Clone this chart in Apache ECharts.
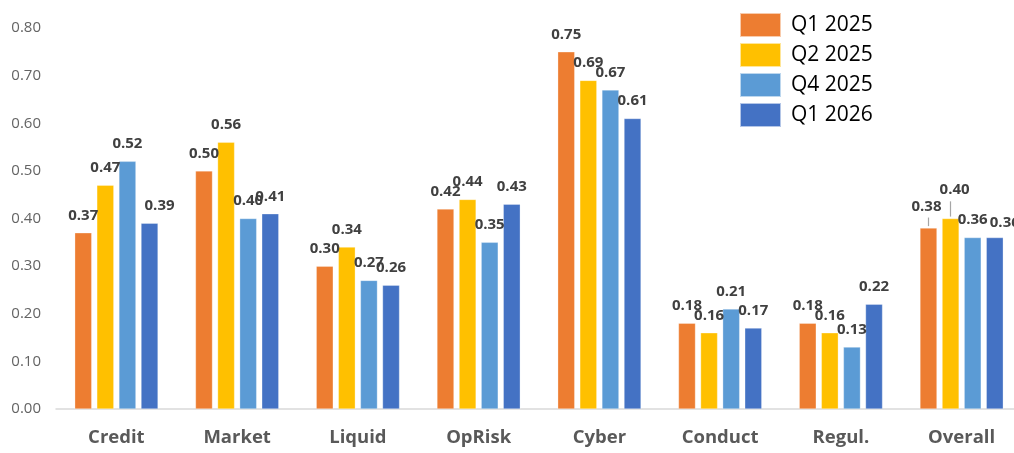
<!DOCTYPE html>
<html>
<head>
<meta charset="utf-8">
<script src="https://cdn.jsdelivr.net/npm/echarts@6/dist/echarts.min.js"></script>
<style>
  html, body { margin: 0; padding: 0; background: #ffffff; }
  #chart { width: 1014px; height: 453px; }
</style>
</head>
<body>
<div id="chart"></div>
<script>
// Risk scores by category and quarter
const categories = ['Credit', 'Market', 'Liquid', 'OpRisk', 'Cyber', 'Conduct', 'Regul.', 'Overall'];
const seriesNames = ['Q1 2025', 'Q2 2025', 'Q4 2025', 'Q1 2026'];
const q1_2025 = [0.37, 0.50, 0.30, 0.42, 0.75, 0.18, 0.18, 0.38];
const q2_2025 = [0.47, 0.56, 0.34, 0.44, 0.69, 0.16, 0.16, 0.40];
const q4_2025 = [0.52, 0.40, 0.27, 0.35, 0.67, 0.21, 0.13, 0.36];
const q1_2026 = [0.39, 0.41, 0.26, 0.43, 0.61, 0.17, 0.22, 0.36];
const yTicks = [0, 0.1, 0.2, 0.3, 0.4, 0.5, 0.6, 0.7, 0.8];

const seriesValues = [q1_2025, q2_2025, q4_2025, q1_2026];
const colors = ['#ED7D31', '#FFC000', '#5B9BD5', '#4472C4'];

// Hand-nudged value labels (series index -> category -> [dx, dy])
const labelNudges = {
  0: { Overall: [-2, -4] },
  1: { Overall: [4, -11] },
  3: { Credit: [10, 0], Overall: [10, 3] }
};

// Labels lifted off their bars get a short leader line (length in axis units)
const leaderLengths = {
  0: { Overall: 0.018 },
  1: { Overall: 0.032 }
};

const chart = echarts.init(document.getElementById('chart'), null, { renderer: 'canvas' });

function barData(i) {
  return seriesValues[i].map((v, j) => {
    const nudge = labelNudges[i] && labelNudges[i][categories[j]];
    return nudge ? { value: v, label: { offset: nudge } } : v;
  });
}

function leaderLines(i) {
  const spec = leaderLengths[i] || {};
  return Object.keys(spec).map(cat => {
    const v = seriesValues[i][categories.indexOf(cat)];
    return [
      { coord: [cat, v + 0.004] },
      { coord: [cat, v + 0.004 + spec[cat]] }
    ];
  });
}

chart.setOption({
  animation: false,
  color: colors,
  textStyle: { fontFamily: '"Open Sans", "Liberation Sans", sans-serif' },
  legend: {
    orient: 'vertical',
    left: 734,
    top: 7,
    itemWidth: 41,
    itemHeight: 24,
    itemGap: 4,
    icon: 'rect',
    data: seriesNames,
    textStyle: { fontSize: 21, color: '#000000', padding: [0, 0, 0, 5] }
  },
  // plot area runs slightly past the right edge of the canvas
  grid: { left: 56, top: 28, width: 966, height: 381, containLabel: false, outerBoundsMode: 'none' },
  xAxis: {
    type: 'category',
    data: categories,
    axisLine: { show: true, lineStyle: { color: '#D9D9D9', width: 1.5 } },
    axisTick: { show: false },
    axisLabel: { color: '#595959', fontSize: 18.5, fontWeight: 'bold', margin: 19 }
  },
  yAxis: {
    type: 'value',
    min: yTicks[0],
    max: yTicks[yTicks.length - 1],
    interval: 0.1,
    axisLine: { show: false },
    axisTick: { show: false },
    splitLine: { show: false },
    axisLabel: {
      color: '#646464',
      fontSize: 15,
      margin: 15,
      formatter: v => v.toFixed(2)
    }
  },
  series: seriesNames.map((name, i) => {
    const s = {
      name,
      type: 'bar',
      data: barData(i),
      barWidth: 17,
      barGap: '30%',
      itemStyle: { color: colors[i], borderColor: 'rgba(255,255,255,0.6)', borderWidth: 0.5 },
      label: {
        show: true,
        position: 'top',
        distance: 10,
        color: '#404040',
        fontSize: 15,
        fontWeight: 'bold',
        formatter: p => p.value.toFixed(2)
      }
    };
    const leaders = leaderLines(i);
    if (leaders.length) {
      s.markLine = {
        silent: true,
        symbol: 'none',
        label: { show: false },
        lineStyle: { color: '#A6A6A6', width: 1.2, type: 'solid' },
        data: leaders
      };
    }
    return s;
  })
});
</script>
</body>
</html>
